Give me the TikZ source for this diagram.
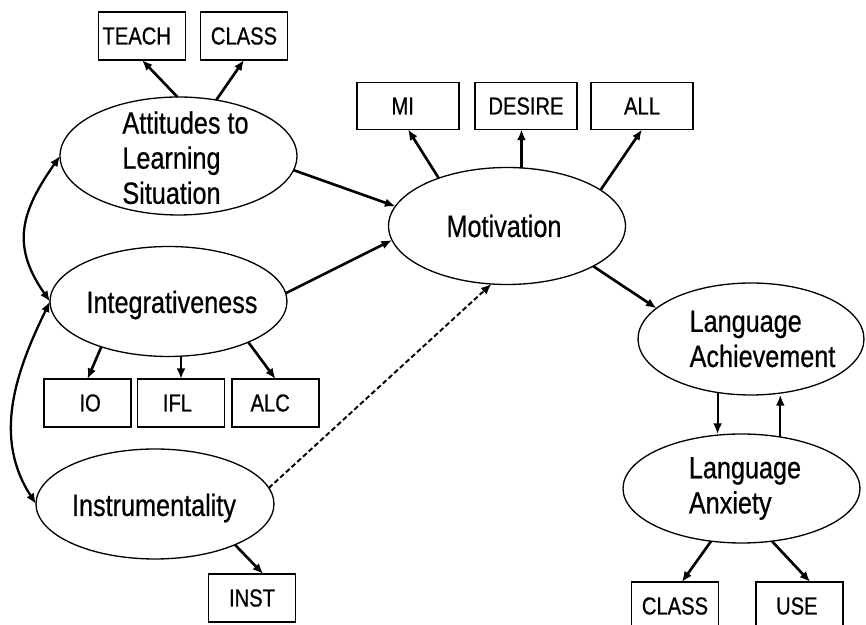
\documentclass[tikz,border=0pt]{standalone}
\usepackage{fontspec}
\setmainfont{Liberation Sans}[FakeStretch=0.82, FakeBold=0.6]
\usetikzlibrary{arrows.meta,shapes.geometric}

\begin{document}
\begin{tikzpicture}[x=0.02cm, y=0.02cm, >={Latex[length=6pt,width=5pt]},
                    factor/.style={draw, ellipse, line width=0.75pt, inner sep=0pt, outer sep=0pt, minimum width=4.74cm},
                    indicator/.style={draw, rectangle, line width=1pt, inner sep=0pt, outer sep=0pt, minimum width=1.74cm, minimum height=0.96cm, font=\fontsize{14}{16}\selectfont},
                    wide/.style={indicator, minimum width=2.04cm, minimum height=0.94cm},
                    factorname/.style={align=left, inner sep=0pt, font=\fontsize{17.5}{20}\selectfont},
                    effect/.style={->, line width=1.5pt},
                    twoway/.style={<->, line width=1.3pt}]
                    \useasboundingbox (0, 0) rectangle (866, 625);
                    % latent factors
                    \node [factor, minimum height=2.36cm] (att) at (178.5, 469) {};
                    \node [factorname] (atttext) at (185.5, 467.3) {Attitudes to\\Learning\\Situation};
                    \node [factor, minimum height=2.34cm] (mot) at (507, 399) {};
                    \node [factorname] (mottext) at (504, 399) {Motivation};
                    \node [factor, minimum height=2.2cm] (int) at (168.5, 323.5) {};
                    \node [factorname] (inttext) at (172, 320) {Integrativeness};
                    \node [factor, minimum width=4.76cm, minimum height=2.2cm] (ins) at (155, 121) {};
                    \node [factorname] (instext) at (154, 117) {Instrumentality};
                    \node [factor, minimum width=4.52cm, minimum height=2.24cm] (ach) at (751, 286) {};
                    \node [factorname] (achtext) at (762.5, 286) {Language\\Achievement};
                    \node [factor, minimum height=2.18cm] (anx) at (741.5, 136.5) {};
                    \node [factorname] (anxtext) at (745, 136.5) {Language\\Anxiety};
                    % observed measures
                    \node [indicator] (teach) at (142, 589) {TEACH\hspace*{6pt}};
                    \node [indicator] (class) at (244, 589) {CLASS};
                    \node [wide] (mi) at (408, 519) {MI\hspace*{6pt}};
                    \node [wide] (desire) at (526, 519) {DESIRE};
                    \node [wide] (all) at (642, 519) {ALL};
                    \node [indicator] (io) at (87.5, 222) {\hspace*{3pt}IO};
                    \node [indicator] (ifl) at (181, 222) {\raisebox{-2pt}{IFL}\hspace*{4pt}};
                    \node [indicator] (alc) at (275.5, 222) {ALC\hspace*{6pt}};
                    \node [indicator] (inst) at (252, 27) {INST};
                    \node [indicator] (anxclass) at (675, 19) {CLASS};
                    \node [indicator] (use) at (799.5, 19) {USE\hspace*{3pt}};
                    % loadings
                    \draw [effect] (att.91) -- (teach.south);
                    \draw [effect] (att.56) -- (class.south);
                    \draw [effect] (mot.145) -- (mi.south);
                    \draw [effect] (mot.76) -- (mot.76 |- desire.south);
                    \draw [effect] (mot.21) -- (all.south);
                    \draw [effect] (int.214) -- (io.north);
                    \draw [effect] (ifl.north |- int.south) -- (ifl.north);
                    \draw [effect] (int.-27) -- (alc.north);
                    \draw [effect] (ins.-27) -- (inst.65);
                    \draw [effect] (anx.240) -- (anxclass.74);
                    \draw [effect] (anx.-60) -- (use.66);
                    % structural paths
                    \draw [effect] (att.-7) -- (mot.170);
                    \draw [effect] (int.4) -- (mot.187);
                    \draw [effect, line width=1.1pt, dash pattern=on 2.8pt off 1.6pt] (ins.8) -- (mot.255);
                    \draw [effect] (mot.-25) -- (ach.162);
                    \draw [effect, line width=1.1pt] (ach.238) -- (ach.238 |- anx.north);
                    \draw [effect, line width=1.1pt] (anx.53) -- (anx.53 |- ach.south);
                    % correlations
                    \draw [twoway] (att.west) to [out=235, in=125, looseness=1.2] (int.west);
                    \draw [twoway] (int.west) to [out=244, in=123] (ins.west);
                \end{tikzpicture}
\end{document}
